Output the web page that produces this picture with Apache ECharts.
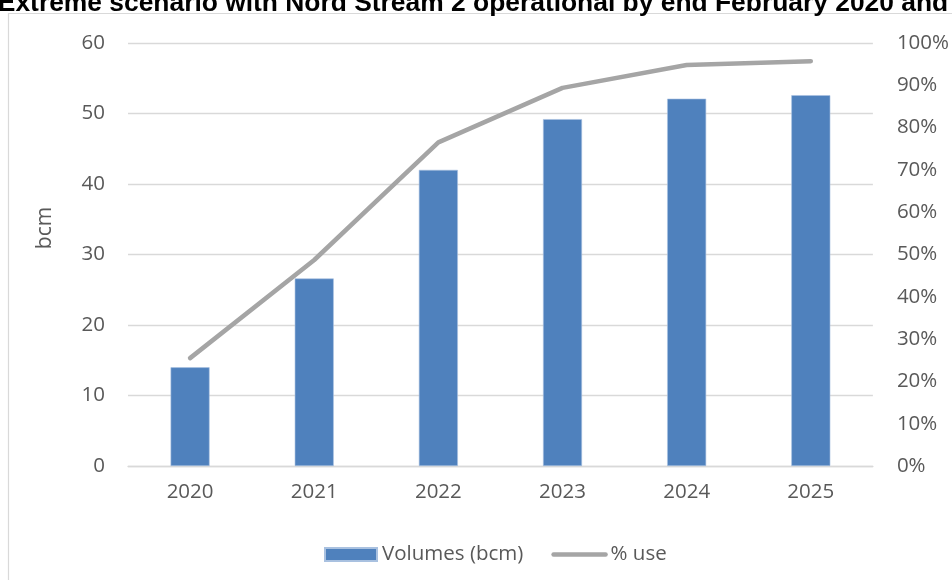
<!DOCTYPE html>
<html><head><meta charset="utf-8">
<script src="https://cdn.jsdelivr.net/npm/echarts@6/dist/echarts.min.js"></script>
<style>html,body{margin:0;padding:0;background:#fff}#c{width:952px;height:580px}</style>
</head><body><div id="c"></div>
<script>
var titleText = 'Extreme scenario with Nord Stream 2 operational by end February 2020 and';
var years = ['2020','2021','2022','2023','2024','2025'];
var volumes = [14.0, 26.6, 42.0, 49.2, 52.1, 52.6];
var pctUse = [0.255, 0.487, 0.765, 0.894, 0.948, 0.957];
var leftTicks = [0, 60, 10];
var rightTicks = [0, 1, 0.1];

var chart = echarts.init(document.getElementById('c'), null, {renderer:'canvas'});
var labelFont = {fontFamily:'Open Sans', fontSize:20.5, color:'#595959'};
chart.setOption({
  animation:false,
  backgroundColor:'#fff',
  graphic:[
    {type:'rect', shape:{x:8.5, y:13.5, width:1000, height:1000}, style:{fill:'none', stroke:'#D9D9D9', lineWidth:1.2}, silent:true, z:-1},
    {type:'text', x:473, y:17, style:{text:titleText, font:'bold 26.4px "Liberation Sans", Arial, sans-serif', fill:'#000', align:'center', verticalAlign:'bottom'}},
    {type:'text', x:45, y:228, rotation:Math.PI/2, style:{text:'bcm', font:'21px "Open Sans"', fill:'#595959', align:'center', verticalAlign:'middle'}}
  ],
  grid:{left:128, right:77, top:43, bottom:114},
  legend:{
    left:319, top:539, itemWidth:52, itemHeight:13, itemGap:28,
    textStyle:{fontFamily:'Open Sans', fontSize:20.5, color:'#595959'},
    data:[{name:'Volumes (bcm)', icon:'rect'},
          {name:'% use', itemStyle:{opacity:0}, lineStyle:{width:4.5, cap:'round', color:'#A5A5A5'}}]
  },
  xAxis:{
    type:'category', data:years,
    axisLine:{show:true, lineStyle:{color:'#D9D9D9', width:1.3}},
    axisTick:{show:false},
    axisLabel:Object.assign({margin:16}, labelFont)
  },
  yAxis:[
    {type:'value', min:leftTicks[0], max:leftTicks[1], interval:leftTicks[2],
     axisLine:{show:false}, axisTick:{show:false},
     splitLine:{lineStyle:{color:'#D9D9D9', width:1.3}},
     axisLabel:Object.assign({margin:23}, labelFont)},
    {type:'value', min:rightTicks[0], max:rightTicks[1], interval:rightTicks[2], position:'right',
     axisLine:{show:false}, axisTick:{show:false}, splitLine:{show:false},
     axisLabel:Object.assign({margin:24, formatter:function(v){return Math.round(v*100)+'%';}}, labelFont)}
  ],
  series:[
    {name:'Volumes (bcm)', type:'bar', data:volumes, barWidth:39, yAxisIndex:0,
     itemStyle:{color:'#4F81BD', borderColor:'#A9C1E0', borderWidth:0.6}},
    {name:'% use', type:'line', data:pctUse, yAxisIndex:1, symbol:'none', showSymbol:false,
     lineStyle:{color:'#A5A5A5', width:4.5, cap:'round', join:'round'},
     itemStyle:{color:'#A5A5A5'}}
  ]
});
</script></body></html>
